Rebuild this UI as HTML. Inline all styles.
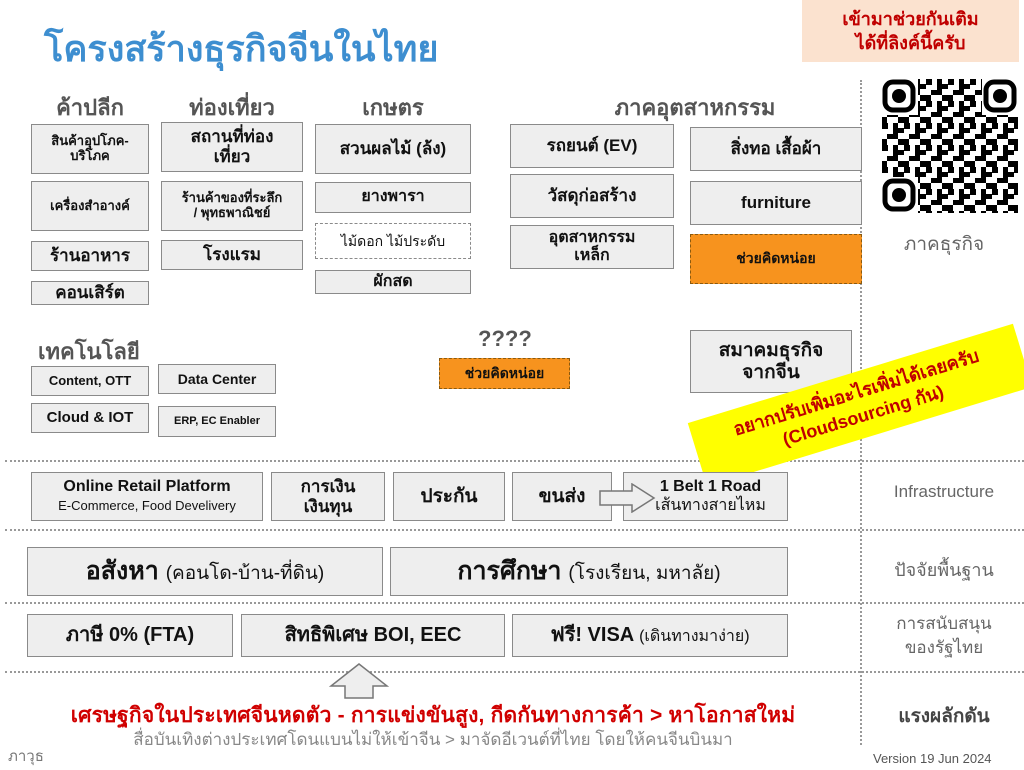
<!DOCTYPE html>
<html><head><meta charset="utf-8"><style>
*{margin:0;padding:0;box-sizing:border-box}
body{width:1024px;height:770px;background:#fff;position:relative;overflow:hidden;font-family:"Liberation Sans","Noto Sans CJK SC",sans-serif}
.a{position:absolute}
.b{position:absolute;background:#eeeeee;border:1.5px solid #8a8a8a;display:flex;align-items:center;justify-content:center;text-align:center;font-weight:bold;color:#111;line-height:1.15}
.h{position:absolute;font-weight:bold;color:#555;font-size:22px;text-align:center}
.o{position:absolute;background:#f7931e;border:1.5px dashed #8a5a10;display:flex;align-items:center;justify-content:center;font-weight:bold;color:#111;font-size:14px}
.hl{position:absolute;left:5px;width:1019px;border-top:2px dotted #999}
.r{position:absolute;color:#666;font-size:17px;text-align:center;width:160px;left:864px}
</style></head><body>
<div class="a" style="left:44px;top:20px;font-size:36px;font-weight:bold;color:#3d8ed0">โครงสร้างธุรกิจจีนในไทย</div>
<div class="a" style="left:802px;top:0;width:217px;height:62px;background:#fbe2cf;color:#c00000;font-weight:bold;font-size:18px;text-align:center;line-height:24px;padding-top:7px">เข้ามาช่วยกันเติม<br>ได้ที่ลิงค์นี้ครับ</div>

<svg class="a" style="left:882px;top:79px" width="136" height="134" viewBox="0 0 136 134">
<defs><pattern id="q" width="22" height="22" patternUnits="userSpaceOnUse">
<rect x="0" y="0" width="6" height="6"/><rect x="11" y="0" width="5" height="11"/><rect x="5" y="11" width="11" height="5"/><rect x="16" y="16" width="6" height="6"/><rect x="0" y="16" width="5" height="6"/><rect x="16" y="5" width="6" height="5"/>
</pattern></defs>
<rect x="0" y="0" width="136" height="134" fill="url(#q)"/>
<g fill="#fff"><rect x="0" y="0" width="36" height="36"/><rect x="100" y="0" width="36" height="36"/><rect x="0" y="98" width="36" height="36"/></g>
<g fill="none" stroke="#000" stroke-width="5"><rect x="3" y="3" width="28" height="28" rx="8"/><rect x="104" y="3" width="28" height="28" rx="8"/><rect x="3" y="102" width="28" height="28" rx="8"/></g>
<circle cx="17" cy="17" r="7"/><circle cx="118" cy="17" r="7"/><circle cx="17" cy="116" r="7"/>
</svg>

<div class="a" style="left:860px;top:80px;height:665px;border-left:2px dotted #999"></div>
<div class="hl" style="top:460px"></div>
<div class="hl" style="top:529px"></div>
<div class="hl" style="top:602px"></div>
<div class="hl" style="top:671px"></div>

<div class="h" style="left:31px;width:118px;top:90px">ค้าปลีก</div>
<div class="b" style="left:31px;top:124px;width:118px;height:50px;font-size:13px">สินค้าอุปโภค-<br>บริโภค</div>
<div class="b" style="left:31px;top:181px;width:118px;height:50px;font-size:13px">เครื่องสำอางค์</div>
<div class="b" style="left:31px;top:241px;width:118px;height:30px;font-size:17px">ร้านอาหาร</div>
<div class="b" style="left:31px;top:281px;width:118px;height:24px;font-size:17px">คอนเสิร์ต</div>

<div class="h" style="left:161px;width:142px;top:90px">ท่องเที่ยว</div>
<div class="b" style="left:161px;top:122px;width:142px;height:50px;font-size:17px">สถานที่ท่อง<br>เที่ยว</div>
<div class="b" style="left:161px;top:181px;width:142px;height:50px;font-size:13px">ร้านค้าของที่ระลึก<br>/ พุทธพาณิชย์</div>
<div class="b" style="left:161px;top:240px;width:142px;height:30px;font-size:17px">โรงแรม</div>

<div class="h" style="left:315px;width:156px;top:90px">เกษตร</div>
<div class="b" style="left:315px;top:124px;width:156px;height:50px;font-size:17px">สวนผลไม้ (ล้ง)</div>
<div class="b" style="left:315px;top:182px;width:156px;height:31px;font-size:16px">ยางพารา</div>
<div class="b" style="left:315px;top:223px;width:156px;height:36px;font-size:14px;background:#fff;border-style:dashed;font-weight:normal">ไม้ดอก ไม้ประดับ</div>
<div class="b" style="left:315px;top:270px;width:156px;height:24px;font-size:16px">ผักสด</div>

<div class="h" style="left:560px;width:270px;top:90px">ภาคอุตสาหกรรม</div>
<div class="b" style="left:510px;top:124px;width:164px;height:44px;font-size:17px">รถยนต์ (EV)</div>
<div class="b" style="left:510px;top:174px;width:164px;height:44px;font-size:17px">วัสดุก่อสร้าง</div>
<div class="b" style="left:510px;top:225px;width:164px;height:44px;font-size:16px">อุตสาหกรรม<br>เหล็ก</div>
<div class="b" style="left:690px;top:127px;width:172px;height:44px;font-size:17px">สิ่งทอ เสื้อผ้า</div>
<div class="b" style="left:690px;top:181px;width:172px;height:44px;font-size:17px">furniture</div>
<div class="o" style="left:690px;top:234px;width:172px;height:50px">ช่วยคิดหน่อย</div>

<div class="h" style="left:38px;top:334px;text-align:left">เทคโนโลยี</div>
<div class="b" style="left:31px;top:366px;width:118px;height:30px;font-size:13px">Content, OTT</div>
<div class="b" style="left:31px;top:403px;width:118px;height:30px;font-size:15px">Cloud &amp; IOT</div>
<div class="b" style="left:158px;top:364px;width:118px;height:30px;font-size:14px">Data Center</div>
<div class="b" style="left:158px;top:406px;width:118px;height:31px;font-size:11px">ERP, EC Enabler</div>

<div class="a" style="left:478px;top:326px;font-size:22px;font-weight:bold;color:#555">????</div>
<div class="o" style="left:439px;top:358px;width:131px;height:31px">ช่วยคิดหน่อย</div>
<div class="b" style="left:690px;top:330px;width:162px;height:63px;font-size:19px">สมาคมธุรกิจ<br>จากจีน</div>

<div class="a" style="left:690px;top:372px;width:340px;height:66px;background:#ffff00;transform:rotate(-17deg);transform-origin:center;color:#c00000;font-weight:bold;font-size:18px;text-align:center;line-height:24px;padding-top:8px">อยากปรับเพิ่มอะไรเพิ่มได้เลยครับ<br>(Cloudsourcing กัน)</div>

<div class="b" style="left:31px;top:472px;width:232px;height:49px;font-size:16px;font-weight:normal"><div><b>Online Retail Platform</b><br><span style="font-size:13px">E-Commerce, Food Develivery</span></div></div>
<div class="b" style="left:271px;top:472px;width:114px;height:49px;font-size:17px">การเงิน<br>เงินทุน</div>
<div class="b" style="left:393px;top:472px;width:112px;height:49px;font-size:19px">ประกัน</div>
<div class="b" style="left:512px;top:472px;width:100px;height:49px;font-size:19px">ขนส่ง</div>
<div class="b" style="left:623px;top:472px;width:165px;height:49px;font-size:16px;font-weight:normal;padding-left:10px"><div><b>1 Belt 1 Road</b><br>เส้นทางสายไหม</div></div>
<svg class="a" style="left:598px;top:483px" width="60" height="30"><polygon points="2,8 34,8 34,1 56,15 34,29 34,22 2,22" fill="#eee" stroke="#777" stroke-width="1.5"/></svg>

<div class="b" style="left:27px;top:547px;width:356px;height:49px;font-size:25px"><span>อสังหา <span style="font-weight:normal;font-size:19px">(คอนโด-บ้าน-ที่ดิน)</span></span></div>
<div class="b" style="left:390px;top:547px;width:398px;height:49px;font-size:25px"><span>การศึกษา <span style="font-weight:normal;font-size:19px">(โรงเรียน, มหาลัย)</span></span></div>

<div class="b" style="left:27px;top:614px;width:206px;height:43px;font-size:20px">ภาษี 0% (FTA)</div>
<div class="b" style="left:241px;top:614px;width:264px;height:43px;font-size:20px">สิทธิพิเศษ BOI, EEC</div>
<div class="b" style="left:512px;top:614px;width:276px;height:43px;font-size:20px"><span>ฟรี! VISA <span style="font-weight:normal;font-size:16px">(เดินทางมาง่าย)</span></span></div>

<svg class="a" style="left:328px;top:662px" width="62" height="38"><polygon points="31,2 59,24 45,24 45,36 17,36 17,24 3,24" fill="#eee" stroke="#777" stroke-width="1.5"/></svg>

<div class="a" style="left:0;width:866px;top:699px;text-align:center;color:#d00000;font-weight:bold;font-size:21px;letter-spacing:0.2px">เศรษฐกิจในประเทศจีนหดตัว - การแข่งขันสูง, กีดกันทางการค้า &gt; หาโอกาสใหม่</div>
<div class="a" style="left:0;width:866px;top:726px;text-align:center;color:#888;font-size:17px">สื่อบันเทิงต่างประเทศโดนแบนไม่ให้เข้าจีน &gt; มาจัดอีเวนต์ที่ไทย โดยให้คนจีนบินมา</div>
<div class="a" style="left:8px;top:744px;color:#777;font-size:15px">ภาวุธ</div>
<div class="a" style="left:873px;top:751px;color:#555;font-size:13px">Version 19 Jun 2024</div>

<div class="r" style="top:229px;font-size:19px">ภาคธุรกิจ</div>
<div class="r" style="top:482px">Infrastructure</div>
<div class="r" style="top:555px;font-size:18px">ปัจจัยพื้นฐาน</div>
<div class="r" style="top:612px;line-height:24px">การสนับสนุน<br>ของรัฐไทย</div>
<div class="r" style="top:701px;font-weight:bold;font-size:19px;color:#444">แรงผลักดัน</div>
</body></html>
